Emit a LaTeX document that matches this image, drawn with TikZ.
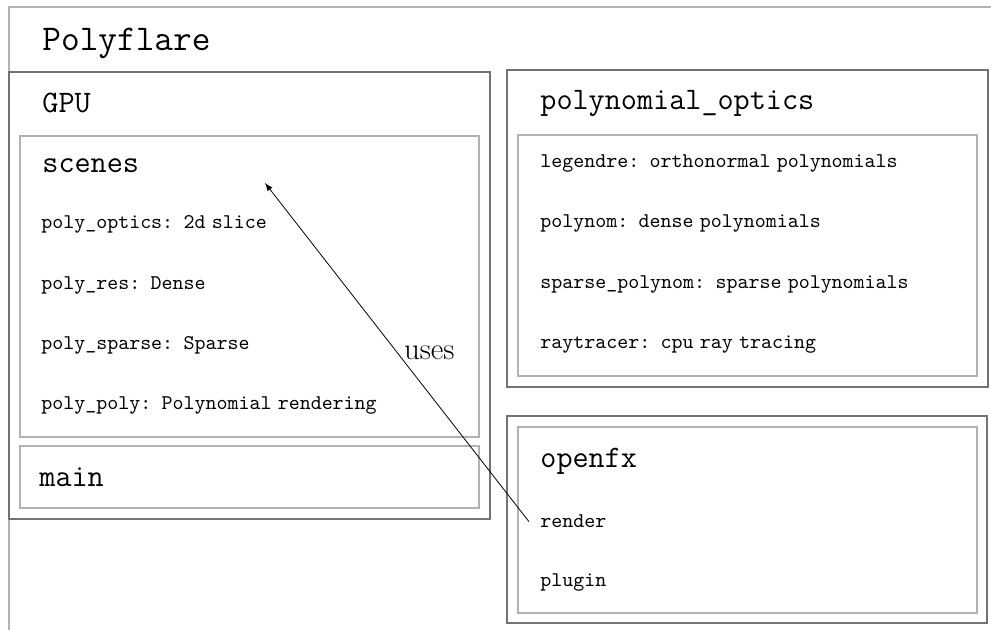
\documentclass[tikz,border=0pt]{standalone}
\usetikzlibrary{positioning}
\newcommand{\itemfont}{\fontsize{10.5}{12}\selectfont\ttfamily\spaceskip=0.3em\relax\xspaceskip=0.5em\relax}
\begin{document}
\begin{tikzpicture}[
                x=0.5bp, y=-0.5bp,
                outerbox/.style={draw=black!55, line width=0.7bp},
                innerbox/.style={draw=black!30, line width=0.7bp},
                toptitle/.style={anchor=base west, inner sep=0pt, font=\fontsize{18.2}{20}\selectfont\ttfamily},
                boxtitle/.style={anchor=base west, inner sep=0pt, font=\fontsize{15.7}{18}\selectfont\ttfamily},
                item/.style={anchor=base west, inner xsep=5.5bp, inner ysep=0pt, font=\itemfont},
                usesarrow/.style={draw, thin, -latex}
            ]
                \clip (0,0) rectangle (991,630);

                % Boxes
                \draw[innerbox] (9,7) rectangle (1010,650);
                \draw[outerbox] (9,72) rectangle (490,519);
                \draw[innerbox] (20,136) rectangle (479,437);
                \draw[innerbox] (20,446) rectangle (479,508);
                \draw[outerbox] (507,70) rectangle (988,387);
                \draw[innerbox] (518,135) rectangle (977,376);
                \draw[outerbox] (507,416) rectangle (987,623);
                \draw[innerbox] (518,427) rectangle (977,613);

                % Titles
                \node (polyflare) [toptitle] at (42,51) {Polyflare};
                \node (gpu) [boxtitle] at (42,113) {GPU};
                \node (scenes) [boxtitle] at (42,173) {scenes};
                \node (main) [boxtitle] at (39,487) {main};
                \node (polyoptics) [boxtitle] at (540,110) {polynomial\_optics};
                \node (openfx) [boxtitle] at (540,468) {openfx};

                % Scenes
                \node (polyopt) [item] at (30,229) {poly\_optics: 2d slice};
                \node (polyres) [item] at (30,290) {poly\_res: Dense};
                \node (polysparse) [item] at (30,350) {poly\_sparse: Sparse};
                \node (polypoly) [item] at (30,410) {poly\_poly: Polynomial rendering};

                % Polynomial optics
                \node (legendre) [item] at (529,168) {legendre: orthonormal polynomials};
                \node (polynom) [item] at (529,228) {polynom: dense polynomials};
                \node (sparsepolynom) [item] at (529,289) {sparse\_polynom: sparse polynomials};
                \node (raytracer) [item] at (529,349) {raytracer: cpu ray tracing};

                % OpenFX
                \node (render) [item] at (529,528) {render};
                \node (plugin) [item] at (529,587) {plugin};

                % Draw Arrows
                \coordinate (scenes-tip) at (265,183);
                \draw[usesarrow] (render.west) -- node[right, font=\fontsize{15.5}{18}\selectfont] {uses} (scenes-tip);

            \end{tikzpicture}
\end{document}
